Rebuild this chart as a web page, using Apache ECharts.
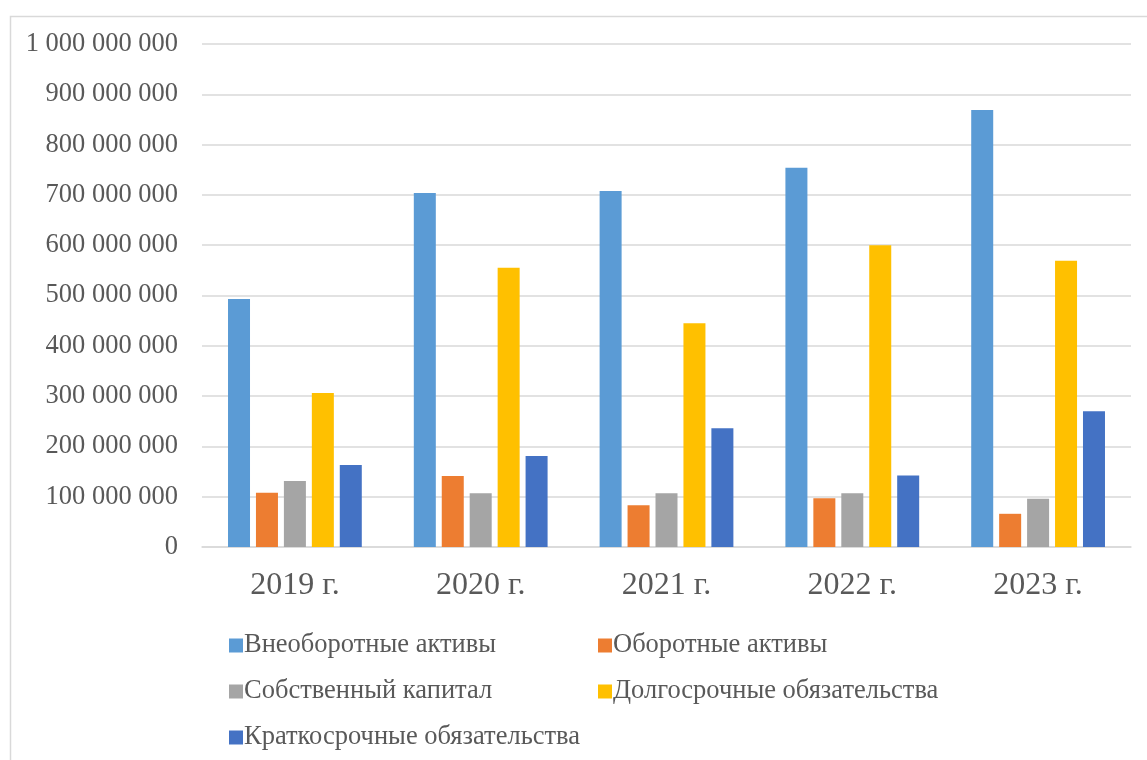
<!DOCTYPE html>
<html>
<head>
<meta charset="utf-8">
<script src="https://cdn.jsdelivr.net/npm/echarts@6/dist/echarts.min.js"></script>
<style>
html,body{margin:0;padding:0;background:#fff;}
#main{width:1147px;height:760px;}
</style>
</head>
<body>
<div id="main"></div>
<script>
const categories = ['2019 г.', '2020 г.', '2021 г.', '2022 г.', '2023 г.'];
const seriesNames = ['Внеоборотные активы', 'Оборотные активы', 'Собственный капитал', 'Долгосрочные обязательства', 'Краткосрочные обязательства'];
const nonCurrentAssets = [493000000, 704000000, 708000000, 754000000, 869000000];
const currentAssets = [108000000, 141000000, 83000000, 97000000, 66000000];
const equity = [131000000, 107000000, 107000000, 107000000, 96000000];
const longTermLiab = [306000000, 555000000, 445000000, 600000000, 569000000];
const shortTermLiab = [163000000, 181000000, 236000000, 142000000, 270000000];
const colors = ['#5B9BD5', '#ED7D31', '#A5A5A5', '#FFC000', '#4472C4'];

const allData = [nonCurrentAssets, currentAssets, equity, longTermLiab, shortTermLiab];
const font = 'Liberation Serif';

function fmt(v){
  return String(v).replace(/\B(?=(\d{3})+(?!\d))/g, ' ');
}

const chart = echarts.init(document.getElementById('main'), null, {renderer:'canvas'});
chart.setOption({
  animation: false,
  backgroundColor: '#fff',
  graphic: [{
    type: 'rect', left: 8, top: 14,
    shape: {width: 1160, height: 780},
    style: {fill: 'none', stroke: '#d9d9d9', lineWidth: 1.5},
    silent: true
  }],
  grid: {left: 202, right: 16, top: 44, bottom: 213, containLabel: false},
  xAxis: {
    type: 'category',
    data: categories,
    axisLine: {show: true, lineStyle: {color: '#d9d9d9', width: 1.5}},
    axisTick: {show: false},
    axisLabel: {fontFamily: font, fontSize: 32, color: '#595959', margin: 23}
  },
  yAxis: {
    type: 'value',
    min: 0, max: 1000000000, interval: 100000000,
    axisLine: {show: false},
    axisTick: {show: false},
    splitLine: {lineStyle: {color: '#d9d9d9', width: 1.5}},
    axisLabel: {fontFamily: font, fontSize: 26.5, color: '#595959', margin: 24, formatter: fmt}
  },
  legend: [{
    orient: 'vertical', left: 224, top: 627,
    data: [seriesNames[0], seriesNames[2], seriesNames[4]],
    icon: 'rect', itemWidth: 14, itemHeight: 14, itemGap: 19,
    textStyle: {fontFamily: font, fontSize: 26.5, color: '#595959', lineHeight: 26, padding: [0,0,0,-4]}
  }, {
    orient: 'vertical', left: 593, top: 627,
    data: [seriesNames[1], seriesNames[3]],
    icon: 'rect', itemWidth: 14, itemHeight: 14, itemGap: 19,
    textStyle: {fontFamily: font, fontSize: 26.5, color: '#595959', lineHeight: 26, padding: [0,0,0,-4]}
  }],
  series: seriesNames.map((n, i) => ({
    name: n,
    type: 'bar',
    data: allData[i],
    itemStyle: {color: colors[i]},
    barGap: '27%',
    barCategoryGap: '28%'
  }))
});
</script>
</body>
</html>
